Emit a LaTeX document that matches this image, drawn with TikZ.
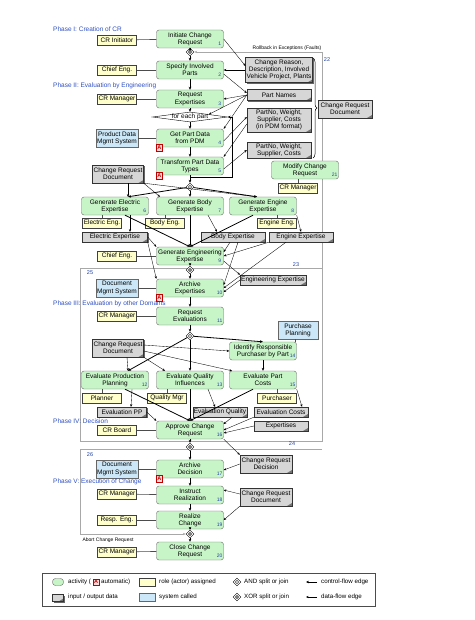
\documentclass[tikz,border=0pt]{standalone}
\usepackage{fontspec}
\setmainfont{Liberation Sans}
\usetikzlibrary{positioning,shapes.geometric,arrows.meta,shadows,decorations.pathreplacing,backgrounds}
\definecolor{actgreen}{HTML}{C8F5C8}
\definecolor{roleyellow}{HTML}{FFFFCC}
\definecolor{sysblue}{HTML}{CCE8F8}
\definecolor{datagray}{HTML}{D6D6D6}
\definecolor{phaseblue}{HTML}{2F4FC0}
\definecolor{numblue}{HTML}{2040A0}
\definecolor{framegray}{HTML}{A8A8A8}
\begin{document}
\begin{tikzpicture}[x=1pt,y=-1pt,
    every node/.style={font=\fontsize{6.5}{7.2}\selectfont, inner sep=1pt},
    act/.style={draw=black!60, fill=actgreen, rounded corners=2.5pt, minimum width=67pt, minimum height=18pt, align=center},
    role/.style={draw=black!75, fill=roleyellow, minimum width=39pt, minimum height=10pt, drop shadow={shadow xshift=0.8pt,shadow yshift=-0.8pt,fill=black!55,opacity=1}},
    sys/.style={draw=black!60, fill=sysblue, minimum width=40pt, minimum height=18pt, align=center, drop shadow={shadow xshift=0.8pt,shadow yshift=-0.8pt,fill=black!45,opacity=1}},
    data/.style={draw=black!80, fill=datagray, align=center, drop shadow={shadow xshift=1.2pt,shadow yshift=-1.2pt,fill=black!60,opacity=1},
        path picture={\fill[black!55] ([xshift=-5pt]path picture bounding box.south east) .. controls ([xshift=-2pt,yshift=1pt]path picture bounding box.south east) .. ([yshift=3pt]path picture bounding box.south east) -- (path picture bounding box.south east) -- cycle;}},
    num/.style={text=numblue, font=\fontsize{5}{5}\selectfont, inner sep=0pt},
    amark/.style={draw=red!75!black, fill=red!15, text=red!75!black, font=\fontsize{5.5}{5.5}\selectfont\bfseries, minimum size=6.5pt, inner sep=0pt},
    gate/.style={draw, diamond, fill=white, minimum size=8pt, inner sep=0pt},
    ctrl/.style={draw, line width=0.8pt, -{Stealth[length=3pt,width=2.6pt]}},
    flow/.style={draw, line width=0.35pt, -{Stealth[length=2.6pt,width=2.2pt]}},
    link/.style={draw=black!70, line width=0.6pt},
    frame/.style={draw=framegray, line width=0.6pt},
    phase/.style={text=phaseblue, anchor=west}]
    \useasboundingbox (0,0) rectangle (474,620);

    % activities
    \foreach \n/\x/\y/\t/\k in {
        a1/190/39/{Initiate Change\\Request}/1,
        a2/190/70/{Specify Involved\\Parts}/2,
        a3/190/99/{Request\\Expertises}/3,
        a4/190/138/{Get Part Data\\from PDM}/4,
        a5/190/166/{Transform Part Data\\Types}/5,
        a6/115/206/{Generate Electric\\Expertise}/6,
        a7/190/206/{Generate Body\\Expertise}/7,
        a8/263/206/{Generate Engine\\Expertise}/8,
        a9/190/256/{Generate Engineering\\Expertise}/9,
        a10/190/288/{Archive\\Expertises}/10,
        a11/190/316/{Request\\Evaluations}/11,
        a12/115/380/{Evaluate Production\\Planning}/12,
        a13/190/380/{Evaluate Quality\\Influences}/13,
        a14/263/351/{Identify Responsible\\Purchaser by Part}/14,
        a15/263/380/{Evaluate Part\\Costs}/15,
        a16/190/430/{Approve Change\\Request}/16,
        a17/190/469/{Archive\\Decision}/17,
        a18/190/495/{Instruct\\Realization}/18,
        a19/190/520/{Realize\\Change}/19,
        a20/190/551/{Close Change\\Request}/20,
        a21/305/170/{Modify Change\\Request}/21}
    {
        \node[act] (\n) at (\x,\y) {\t};
        \node[num] at ([xshift=-4pt,yshift=4pt]\n.south east) {\k};
    }
    \foreach \a in {a4,a5,a10,a17}
        \node[amark] at ([xshift=3pt,yshift=-0.5pt]\a.south west) {A};

    % roles
    \foreach \n/\x/\y/\t in {r1/117/40/CR Initiator, r2/117/70/Chief Eng., r3/117/99/CR Manager,
        r6/102/223/Electric Eng., r7/165/223/Body Eng., r8/277/223/Engine Eng., r9/117/256/Chief Eng.,
        r11/117/316/CR Manager, r12/102/398/Planner, r13/167/398/Quality Mgr, r15/277/398/Purchaser,
        r16/117/430/CR Board, r18/117/494/CR Manager, r19/117/520/Resp. Eng., r20/117/552/CR Manager,
        r21/298/188/CR Manager}
        \node[role] (\n) at (\x,\y) {\t};
    \foreach \r/\a in {r1/a1,r2/a2,r3/a3,r9/a9,r11/a11,r16/a16,r18/a18,r19/a19,r20/a20}
        \draw[link] (\r) -- (\a);
    \foreach \r/\a in {r6/a6,r7/a7,r8/a8,r12/a12,r13/a13,r15/a15,r21/a21}
        \draw[link] (\r.north) -- (\r.north |- \a.south);

    % systems
    \foreach \n/\x/\y/\t in {s4/117/138/{Product Data\\Mgmt System}, s10/117/288/{Document\\Mgmt System},
        s14/298/330/{Purchase\\Planning}, s17/117/469/{Document\\Mgmt System}}
        \node[sys] (\n) at (\x,\y) {\t};
    \foreach \s/\a in {s4/a4,s10/a10,s17/a17}
        \draw[link] (\s) -- (\a);
    \draw[link] ([xshift=-3pt]s14.south) -- ([xshift=-3pt]s14.south |- a14.north);

    % data
    \foreach \n/\x/\y/\w/\h/\t in {
        d1/279/70/64/25/{Change Reason,\\Description, Involved\\Vehicle Project, Plants},
        d2/279/95/64/11/{Part Names},
        d3/279/120/64/24/{PartNo, Weight,\\Supplier, Costs\\(in PDM format)},
        d4/279/150/64/16/{PartNo, Weight,\\Supplier, Costs},
        d5/345/109/54/18/{Change Request\\Document},
        d6/118/174/51/18/{Change Request\\Document},
        d7/115/237/65/10/{Electric Expertise},
        d8/233/237/64/10/{Body Expertise},
        d9/301/237/64/10/{Engine Expertise},
        d10/273/280/64/10/{Engineering Expertise},
        d11/118/348/51/18/{Change Request\\Document},
        d12/122/412/49/10/{Evaluation PP},
        d13/220/412/53/10/{Evaluation Quality},
        d14/281/412/54/10/{Evaluation Costs},
        d15/281/426/54/10/{Expertises},
        d16/266/464/52/18/{Change Request\\Decision},
        d17/266/497/52/18/{Change Request\\Document}}
        \node[data, minimum width=\w pt, minimum height=\h pt] (\n) at (\x,\y) {\t};
    \draw[decorate, decoration={brace, amplitude=4pt}, line width=0.5pt] (313,58) -- (313,158);

    % gateways
    \foreach \g/\y in {g1/52, g2/187, g3/270, g4/336, g5/447, g6/534}
        \node[gate] (\g) at (190,\y) {};
    \foreach \g in {g2,g4}
        \node[draw, diamond, minimum size=3.5pt, inner sep=0pt] at (\g) {};
    \foreach \g in {g1,g3,g5,g6}
        \node[draw, circle, minimum size=3pt, inner sep=0pt] at (\g) {};
    \node[draw, diamond, fill=white, minimum width=75pt, minimum height=10pt, inner sep=0pt] (fe) at (190,117) {};
    \node at (fe) {for each part};

    % control flow
    \foreach \u/\v in {a1/g1, g1/a2, a2/a3, a3/fe, fe/a4, a4/a5, a5/g2, g2/a7, a7/a9, a9/g3, g3/a10,
        a10/a11, a11/g4, g4/a13, a13/a16, a14/a15, a16/g5, g5/a17, a17/a18, a18/a19, a19/g6, g6/a20}
        \draw[ctrl] (\u) -- (\v);
    \draw[ctrl] (g2) -- ([xshift=13pt]a6.north);
    \draw[ctrl] (g2) -- ([xshift=-6pt]a8.north);
    \draw[ctrl] ([xshift=10pt]a6.south) -- (a9.north);
    \draw[ctrl] ([xshift=-10pt]a8.south) -- (a9.north);
    \draw[ctrl] (g4) -- (a14.north);
    \draw[ctrl] (g4) -- ([xshift=13pt]a12.north);
    \draw[ctrl] ([xshift=10pt]a12.south) -- (a16.north);
    \draw[ctrl] ([xshift=-10pt]a15.south) -- (a16.north);
    \coordinate (lp1) at (190,177);
    \coordinate (lp2) at (232,177);
    \draw[ctrl] (lp1) -- (lp2) |- (fe.east);

    % data flow
    \draw[flow] (a1.east) -- ([yshift=4pt]d1.west);
    \draw[flow] (d1.west) -- (a2.east);
    \draw[flow] ([yshift=-4pt]a2.east) -- ([yshift=2pt]d2.west);
    \draw[flow] (d2.west) -- (a3.east);
    \draw[flow] (d2.west) -- (fe.north east);
    \draw[flow] (d2.west) -- (a4.north east);
    \draw[flow] ([yshift=-3pt]a4.east) -- ([yshift=3pt]d3.west);
    \draw[flow] ([yshift=-4pt]d3.west) -- (a5.north east);
    \draw[flow] ([yshift=-3pt]a5.east) -- (d4.west);
    \draw[flow] ([xshift=10pt]d6.south) -- ([xshift=13pt]a6.north);
    \draw[flow] (d6.south east) -- ([xshift=-30pt]a7.north);
    \draw[flow] (d6.south east) -- ([xshift=-6pt]a8.north);
    \draw[flow] ([xshift=15pt]a6.south) -- ([xshift=15pt]d7.north);
    \draw[flow] ([xshift=18pt]a7.south) -- ([xshift=-16pt]d8.north);
    \draw[flow] (a8.south east) -- (d9.north);
    \draw[flow] (d7.east) -- (a9.north west);
    \draw[flow] (d7.south east) -- (a10.north west);
    \draw[flow] ([xshift=-3pt]d8.south) -- ([yshift=4pt]a9.east);
    \draw[flow] (d9.south west) -- (a9.east);
    \draw[flow] ([xshift=5pt]d8.south) -- ([yshift=3pt]a10.east);
    \draw[flow] ([xshift=-15pt]d9.south) -- (a10.east);
    \draw[flow] ([yshift=-5pt]a9.east) -- (d10.north west);
    \draw[flow] (d10.west) -- ([yshift=-4pt]a10.east);
    \draw[flow] ([xshift=9pt]d11.south) -- ([xshift=13pt]a12.north);
    \draw[flow] (d11.south east) -- ([xshift=-25pt]a13.north);
    \draw[flow] ([yshift=-3pt]d11.east) -- ([xshift=-31pt]a15.north);
    \draw[flow] ([yshift=3pt]d11.east) -- (a14.west);
    \draw[flow] ([xshift=17pt]a12.south) -- ([xshift=9pt]d12.north);
    \draw[flow] ([xshift=18pt]a13.south) -- ([xshift=-5pt]d13.north);
    \draw[flow] (a15.south east) -- ([xshift=21pt]d14.north);
    \draw[flow] (d12.east) -- (a16.north west);
    \draw[flow] ([xshift=12pt]d13.south) -- ([yshift=6pt]a16.east);
    \draw[flow] (d14.south west) -- (a16.east);
    \draw[flow] (d15.west) -- ([yshift=-3pt]a16.east);
    \draw[flow] (a16.south east) -- (d16.north west);
    \draw[flow] (d16.west) -- ([yshift=-1pt]a17.east);
    \draw[flow] ([yshift=3pt]d17.west) -- ([yshift=5pt]a18.east);
    \draw[flow] (d17.south west) -- (a19.east);

    % phases and frames
    \node[phase] at (52,29) {Phase I: Creation of CR};
    \node[phase] at (52,86) {Phase II: Evaluation by Engineering};
    \node[phase] at (52,304) {Phase III: Evaluation by other Domains};
    \node[phase] at (52,421) {Phase IV: Decision};
    \node[phase] at (52,482) {Phase V: Execution of Change};
    \foreach \x/\y/\k in {327/60/22, 296/265/23, 90/273/25, 292/444/24, 90/455/26}
        \node[num, font=\fontsize{5.5}{5.5}\selectfont] at (\x,\y) {\k};
    \node[font=\fontsize{5}{5}\selectfont] at (287,48) {Rollback in Exceptions (Faults)};
    \node[font=\fontsize{5}{5}\selectfont] at (108,540) {Abort Change Request};
    \begin{scope}[on background layer]
        \draw[frame] (80,268) rectangle (322,441);
        \draw[frame, -{Stealth[length=3pt,width=2.4pt]}] (322,268) -- (322,52) -- (g1.east);
        \draw[frame, -{Stealth[length=3pt,width=2.4pt]}] (322,449) -- (80,449) -- (80,534) -- (g6.west);
    \end{scope}

    % legend
    \begin{scope}[every node/.style={font=\fontsize{6.2}{7}\selectfont, inner sep=1pt}]
        \draw[black!70, line width=0.5pt] (42,573) rectangle (375,606);
        \node[act, minimum width=11pt, minimum height=7pt, rounded corners=3pt] (lgact) at (58,582) {};
        \node[anchor=west] (lgt1) at (67,582) {activity (};
        \node[amark, right=0.5pt of lgt1] (lga) {A};
        \node[right=0.5pt of lga] {automatic)};
        \node[data, minimum width=11pt, minimum height=7pt] (lgdat) at (58,598) {};
        \node[anchor=west] at (67,597) {input / output data};
        \node[role, minimum width=16pt, minimum height=8pt] (lgrole) at (147,582) {};
        \node[anchor=west] at (158,582) {role (actor) assigned};
        \node[sys, minimum width=16pt, minimum height=8pt] (lgsys) at (147,597) {};
        \node[anchor=west] at (158,597) {system called};
        \node[gate] (lgand) at (237,582) {};
        \node[draw, diamond, minimum size=3.5pt, inner sep=0pt] at (lgand) {};
        \node[anchor=west] at (243,582) {AND split or join};
        \node[gate] (lgxor) at (237,597) {};
        \node[draw, circle, minimum size=3pt, inner sep=0pt] at (lgxor) {};
        \node[anchor=west] at (243,597) {XOR split or join};
        \coordinate (lgc1) at (317,582);
        \coordinate (lgc2) at (306,582);
        \draw[ctrl] (lgc1) -- (lgc2);
        \node[anchor=west] at (320,582) {control-flow edge};
        \coordinate (lgf1) at (317,597);
        \coordinate (lgf2) at (306,597);
        \draw[flow] (lgf1) -- (lgf2);
        \node[anchor=west] at (320,597) {data-flow edge};
    \end{scope}
\end{tikzpicture}
\end{document}
